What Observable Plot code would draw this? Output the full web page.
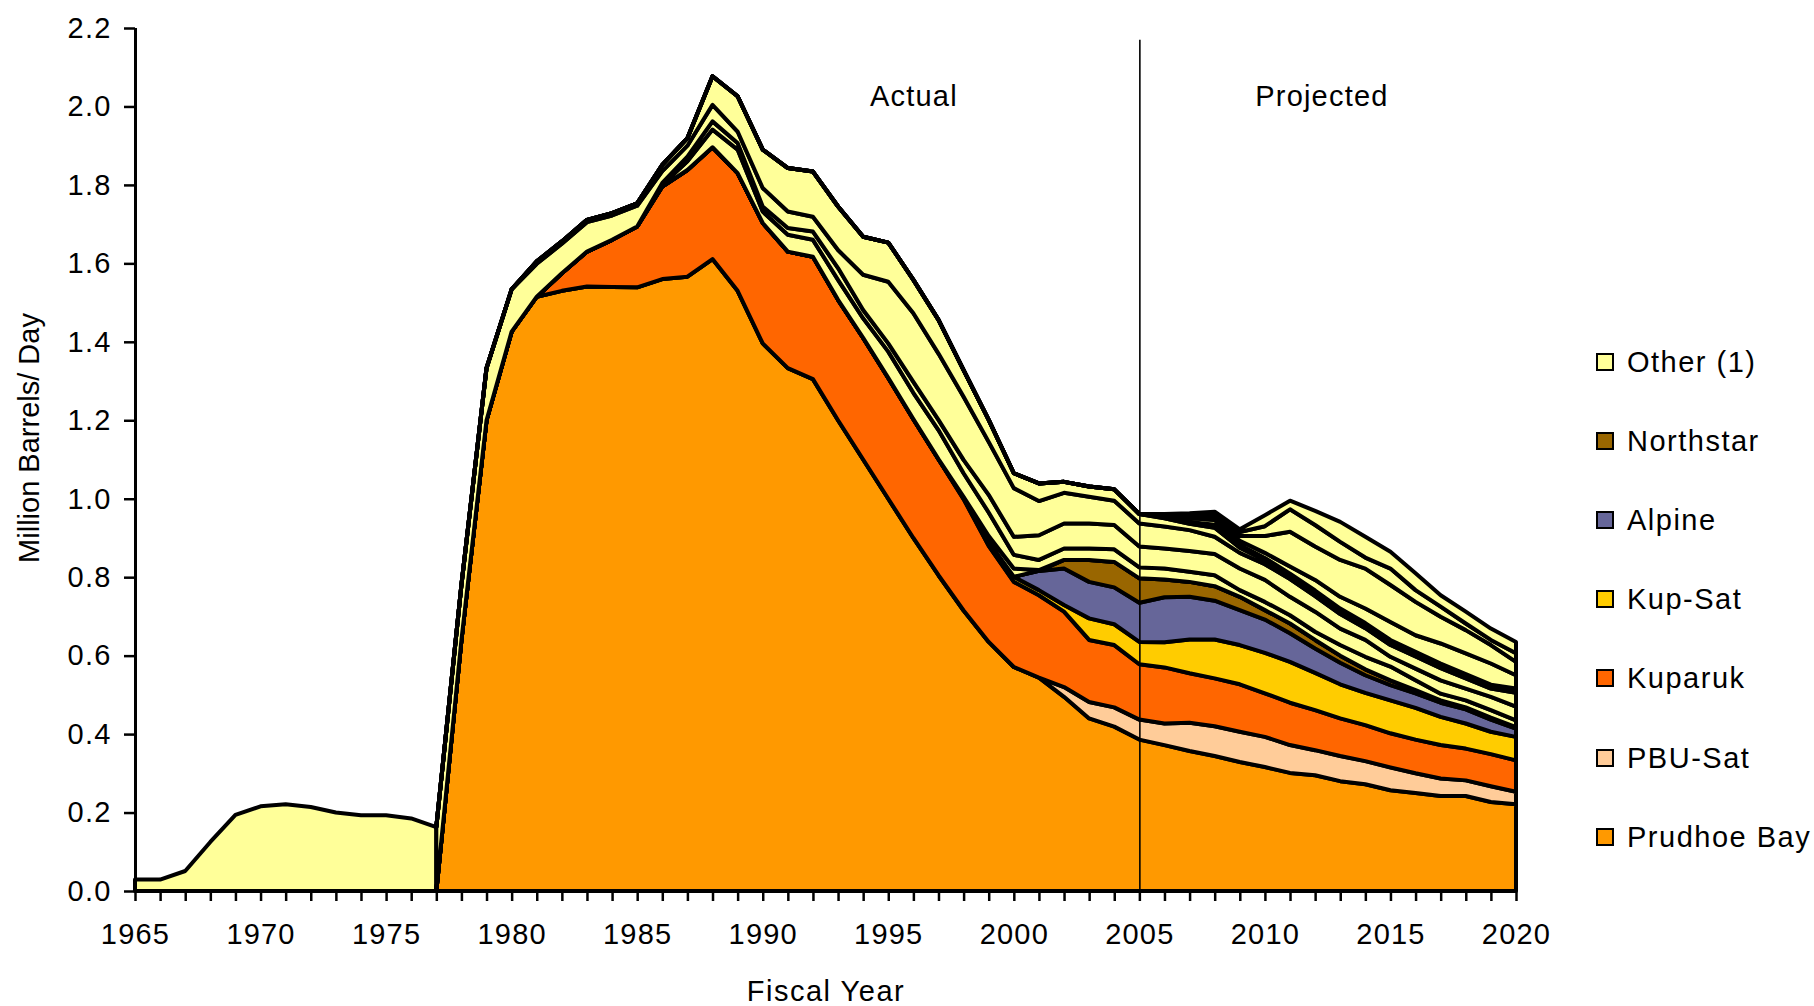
<!DOCTYPE html>
<html>
<head>
<meta charset="utf-8">
<script src="https://cdn.jsdelivr.net/npm/d3@7"></script>
<script src="https://cdn.jsdelivr.net/npm/@observablehq/plot@0.6"></script>
<style>
  html, body { margin: 0; padding: 0; background: #fff; }
  #wrap { position: relative; width: 1814px; height: 1006px; overflow: hidden;
          font-family: "Liberation Sans", Arial, sans-serif; color: #000; }
  #wrap svg { position: absolute; left: 0; top: 0; }
  #wrap svg text { letter-spacing: 1.2px; }
  .lab { position: absolute; font-size: 29px; white-space: nowrap; line-height: 1; }
  .sw { position: absolute; width: 18px; height: 18px; box-sizing: border-box; border: 2px solid #000; }
</style>
</head>
<body>
<div id="wrap"></div>
<script>
// ---------- data ----------
const earlyYears = [1965,1966,1967,1968,1969,1970,1971,1972,1973,1974,1975,1976,1977];
const earlyOther = [0.029,0.029,0.051,0.125,0.194,0.216,0.221,0.214,0.200,0.193,0.193,0.185,0.163];

const years = [1977,1978,1979,1980,1981,1982,1983,1984,1985,1986,
               1987,1988,1989,1990,1991,1992,1993,1994,1995,1996,
               1997,1998,1999,2000,2001,2002,2003,2004,2005,2006,
               2007,2008,2009,2010,2011,2012,2013,2014,2015,2016,
               2017,2018,2019,2020];

const prudhoeBay = [0,0.64,1.20,1.426,1.515,1.530,1.541,1.540,1.539,1.560,
                    1.566,1.611,1.530,1.396,1.333,1.305,1.200,1.100,1.000,0.900,
                    0.805,0.715,0.635,0.571,0.544,0.495,0.440,0.419,0.386,0.372,
                    0.357,0.344,0.329,0.316,0.301,0.295,0.280,0.272,0.257,0.250,
                    0.242,0.242,0.227,0.221];
const pbuSat = [0,0,0,0,0,0,0,0,0,0,
                0,0,0,0,0,0,0,0,0,0,
                0,0,0,0,0,0.025,0.042,0.049,0.051,0.055,
                0.072,0.076,0.077,0.077,0.071,0.064,0.064,0.059,0.058,0.050,
                0.045,0.040,0.040,0.032];
const kuparuk = [0,0,0,0,0,0.045,0.089,0.120,0.155,0.236,
                 0.272,0.285,0.300,0.307,0.297,0.312,0.307,0.310,0.308,0.303,
                 0.296,0.284,0.245,0.217,0.210,0.192,0.158,0.159,0.141,0.143,
                 0.126,0.122,0.121,0.111,0.108,0.102,0.096,0.092,0.087,0.086,
                 0.085,0.081,0.082,0.080];
const kupSat = [0,0,0,0,0,0,0,0,0,0,
                0,0,0,0,0,0,0,0,0,0,
                0,0.003,0.010,0.013,0.013,0.017,0.055,0.053,0.057,0.064,
                0.086,0.099,0.100,0.103,0.104,0.095,0.087,0.082,0.084,0.081,
                0.072,0.064,0.057,0.060];
const alpine = [0,0,0,0,0,0,0,0,0,0,
                0,0,0,0,0,0,0,0,0,0,
                0,0,0,0,0.049,0.093,0.093,0.094,0.100,0.115,
                0.109,0.099,0.089,0.085,0.073,0.062,0.055,0.045,0.039,0.037,
                0.036,0.036,0.031,0.021];
const northstar = [0,0,0,0,0,0,0,0,0,0,
                   0,0,0,0,0,0,0,0,0,0,
                   0,0,0,0,0,0.022,0.056,0.065,0.062,0.045,
                   0.038,0.037,0.034,0.024,0.025,0.022,0.018,0.015,0.012,0.008,
                   0.006,0.005,0.005,0.004];
// "Other (1)" is made of many small fields, all drawn in the same pale yellow
const otherA = [0,0,0,0,0,0,0,0,0,0,
                0,0,0,0,0,0,0,0,0,0,
                0,0.003,0.015,0.021,0.002,0,0,0,0,0,
                0,0,0,0,0,0,0,0,0,0,
                0,0,0,0];
const otherB = [0,0,0,0,0,0,0,0,0,0.004,
                0.022,0.045,0.060,0.029,0.043,0.043,0.051,0.050,0.067,0.067,
                0.074,0.060,0.060,0.035,0.026,0.029,0.029,0.032,0.028,0.028,
                0.026,0.028,0.017,0.021,0.021,0.021,0.027,0.032,0.035,0.025,
                0.017,0.018,0.019,0.017];
const otherC = [0,0,0,0,0,0,0,0,0,0.005,
                0.012,0.021,0.017,0.013,0.017,0.021,0.030,0.021,0.021,0.028,
                0.026,0.034,0.045,0.046,0.063,0.064,0.064,0.062,0.053,0.051,
                0.053,0.054,0.055,0.056,0.047,0.051,0.042,0.043,0.025,0.030,
                0.034,0.030,0.034,0.035];
const otherD = [0.163,0.140,0.133,0.108,0.084,0.075,0.075,0.062,0.053,0.030,
                0.028,0.042,0.029,0.047,0.042,0.038,0.046,0.090,0.157,0.175,
                0.169,0.161,0.135,0.124,0.087,0.078,0.068,0.062,0.059,0.056,
                0.053,0.044,0.040,0.040,0.045,0.040,0.037,0.030,0.030,0.031,
                0.031,0.026,0.021,0.035];
const otherE = [0,0,0,0,0.006,0.006,0.006,0.006,0.006,0.016,
                0.019,0.073,0.090,0.098,0.111,0.115,0.111,0.097,0.100,0.085,
                0.086,0.068,0.056,0.038,0.045,0.028,0.026,0.029,0.024,0.021,
                0.016,0.023,0.013,0.010,0.008,0.008,0.008,0.007,0.007,0.006,
                0.006,0.006,0.005,0.006];
const otherF = [0,0,0,0,0,0,0,0,0,0,
                0,0,0,0,0,0,0,0,0,0,
                0,0,0,0,0,0,0,0,0,0.003,
                0.005,0.008,0.007,0.006,0.006,0.006,0.006,0.006,0.006,0.006,
                0.006,0.005,0.005,0.005];
const otherG = [0,0,0,0,0,0,0,0,0,0,
                0,0,0,0,0,0,0,0,0,0,
                0,0,0,0,0,0,0,0,0,0.004,
                0.010,0.012,0.011,0.013,0.018,0.027,0.030,0.037,0.046,0.042,
                0.051,0.053,0.054,0.034];
const otherH = [0,0,0,0,0,0,0,0,0,0,
                0,0,0,0,0,0,0,0,0,0,
                0,0,0,0,0,0,0,0,0,0.002,
                0.005,0.009,0.012,0.043,0.089,0.085,0.094,0.102,0.094,0.085,
                0.068,0.059,0.047,0.034];
const otherI = [0,0,0,0,0,0,0,0,0,0,
                0,0,0,0,0,0,0,0,0,0,
                0,0,0,0,0,0,0,0,0,0.001,
                0.003,0.006,0.010,0.025,0.057,0.055,0.046,0.028,0.042,0.030,
                0.026,0.017,0.013,0.022];
const otherJ = [0,0,0,0,0,0,0,0,0,0,
                0,0,0,0,0,0,0,0,0,0,
                0,0,0,0,0,0,0,0,0,0.001,
                0.004,0.006,0.007,0.028,0.022,0.036,0.051,0.053,0.043,0.043,
                0.029,0.030,0.029,0.029];

const seriesNames = ["Prudhoe Bay","PBU-Sat","Kuparuk","Kup-Sat","Alpine","Northstar",
                     "Other A","Other B","Other C","Other D","Other E","Other F",
                     "Other G","Other H","Other I","Other J"];
const seriesValues = [prudhoeBay,pbuSat,kuparuk,kupSat,alpine,northstar,
                      otherA,otherB,otherC,otherD,otherE,otherF,otherG,otherH,otherI,otherJ];
const seriesColors = ["#FF9900","#FFCC99","#FF6600","#FFCC00","#666699","#996600",
                      "#FFFF99","#FFFF99","#FFFF99","#FFFF99","#FFFF99","#FFFF00",
                      "#FFFF99","#FFFF99","#FFFF99","#FFFF99"];

const legendLabels = ["Other (1)","Northstar","Alpine","Kup-Sat","Kuparuk","PBU-Sat","Prudhoe Bay"];
const legendColors = ["#FFFF99","#996600","#666699","#FFCC00","#FF6600","#FFCC99","#FF9900"];

const yTicks = [0,0.2,0.4,0.6,0.8,1.0,1.2,1.4,1.6,1.8,2.0,2.2];
const xTicks = d3.range(1965, 2021);

const annLabels = ["Actual","Projected"];
const annYears = [1996.0, 2012.25];
const annValues = [2.027, 2.027];
const dividerYear = 2005;
const dividerTop = 2.17;

// ---------- build tables ----------
const stacked = [];
seriesNames.forEach((name, s) => {
  years.forEach((yr, i) => stacked.push({year: yr, series: name, value: seriesValues[s][i]}));
});
const early = earlyYears.map((yr, i) => ({year: yr, value: earlyOther[i]}));
const ann = annLabels.map((t, i) => ({label: t, year: annYears[i], value: annValues[i]}));

const chart = Plot.plot({
  width: 1814,
  height: 1006,
  marginLeft: 135,
  marginRight: 298,
  marginTop: 28,
  marginBottom: 115,
  x: {domain: [1965, 2020]},
  y: {domain: [0, 2.2]},
  color: {domain: seriesNames, range: seriesColors},
  style: {fontFamily: "'Liberation Sans', Arial, sans-serif", fontSize: "29px", color: "#000", background: "#fff"},
  marks: [
    Plot.areaY(early, {x: "year", y: "value", fill: "#FFFF99", stroke: "#000", strokeWidth: 4,
                       strokeLinejoin: "round"}),
    Plot.areaY(stacked, {x: "year", y: "value", z: "series", fill: "series", order: seriesNames,
                         stroke: "#000", strokeWidth: 4, strokeLinejoin: "round"}),
    Plot.ruleX([dividerYear], {y1: 0, y2: dividerTop, stroke: "#000", strokeWidth: 1.6}),
    Plot.text(ann, {x: "year", y: "value", text: "label", fontSize: 29, fill: "#000"}),
    Plot.axisY({ticks: yTicks, tickFormat: d3.format(".1f"), tickSize: 11, tickPadding: 13,
                strokeWidth: 2.5, label: null}),
    Plot.axisX({ticks: xTicks, tickFormat: d => (d % 5 === 0 ? String(d) : ""), tickSize: 10,
                tickPadding: 22, strokeWidth: 2.5, label: null}),
    Plot.ruleX([1965], {stroke: "#000", strokeWidth: 3}),
    Plot.ruleY([0], {stroke: "#000", strokeWidth: 3})
  ]
});

const wrap = document.getElementById("wrap");
wrap.appendChild(chart);

// axis titles
const yt = document.createElement("div");
yt.className = "lab";
yt.textContent = "Million Barrels/ Day";
yt.style.left = "29px";
yt.style.top = "438px";
yt.style.transform = "translate(-50%,-50%) rotate(-90deg)";
wrap.appendChild(yt);

const xt = document.createElement("div");
xt.className = "lab";
xt.textContent = "Fiscal Year";
xt.style.left = "826px";
xt.style.top = "991px";
xt.style.letterSpacing = "1.5px";
xt.style.transform = "translate(-50%,-50%)";
wrap.appendChild(xt);

// legend
legendLabels.forEach((lab, i) => {
  const cy = 362 + i * 79.1;
  const sw = document.createElement("div");
  sw.className = "sw";
  sw.style.left = "1596px";
  sw.style.top = (cy - 9) + "px";
  sw.style.background = legendColors[i];
  wrap.appendChild(sw);
  const t = document.createElement("div");
  t.className = "lab";
  t.textContent = lab;
  t.style.left = "1627px";
  t.style.top = cy + "px";
  t.style.letterSpacing = "1.5px";
  t.style.transform = "translateY(-50%)";
  wrap.appendChild(t);
});
</script>
</body>
</html>
